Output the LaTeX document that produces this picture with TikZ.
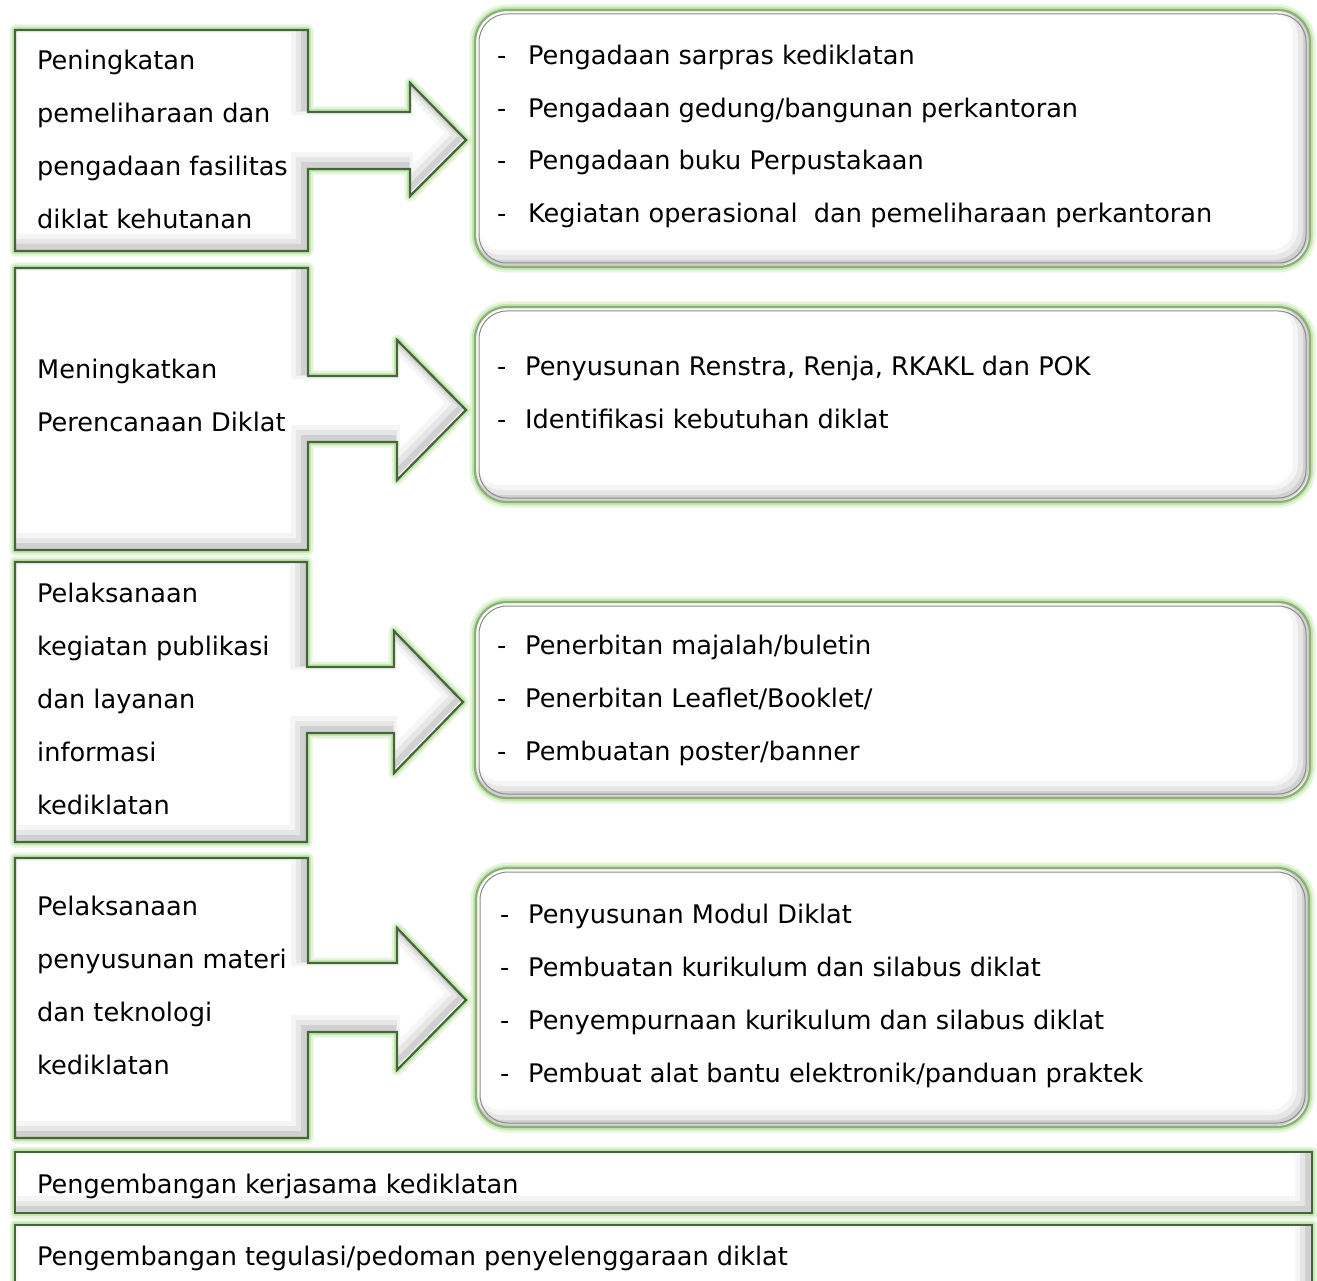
\documentclass[tikz,border=0pt]{standalone}
\usepackage{fontspec}
\setmainfont{DejaVu Sans}
\definecolor{glow}{HTML}{B5E39C}
\definecolor{dkgreen}{HTML}{46663A}
\definecolor{rbord}{HTML}{8DAE78}
\tikzset{
  lbl/.style={anchor=base west, inner sep=0pt, font=\fontsize{25.6}{30}\selectfont, text=black},
}
\newcommand\bevelshape[2]{%
  \draw[glow, line width=11pt, opacity=0.35, line join=round] #1;
  \draw[glow, line width=6pt, opacity=0.7, line join=round] #1;
  \fill[white] #1;
  \begin{scope}
    \clip #1;
    \draw[black, opacity=0.04, line width=20pt, shift={(-7,-7)}] #1;
    \draw[black, opacity=0.06, line width=12pt, shift={(-6,-6)}] #1;
    \draw[black, opacity=0.09, line width=6pt, shift={(-4,-4)}] #1;
  \end{scope}
  \draw[#2, line width=2.2pt, line join=miter] #1;
}
\newcommand\dashitem[2]{\makebox[#1][l]{-}#2}
\begin{document}
\begin{tikzpicture}[x=1pt,y=-1pt]
\useasboundingbox (0,0) rectangle (1317,1281);
\fill[white] (0,0) rectangle (1317,1281);

% ---- row 1
\bevelshape{(15,30) -- (308,30) -- (308,112) -- (410,112) -- (410,83) -- (466,140) -- (410,196) -- (410,169) -- (308,169) -- (308,251) -- (15,251) -- cycle}{dkgreen}
\bevelshape{[rounded corners=32pt] (475,10) rectangle (1310,267)}{rbord}
\draw[black!45, line width=1pt, rounded corners=28pt] (479,14) rectangle (1306,263);

% ---- row 2
\bevelshape{(15,268) -- (308,268) -- (308,376) -- (397,376) -- (397,340) -- (466,410) -- (397,480) -- (397,442) -- (308,442) -- (308,550) -- (15,550) -- cycle}{dkgreen}
\bevelshape{[rounded corners=32pt] (475,307) rectangle (1310,502)}{rbord}
\draw[black!45, line width=1pt, rounded corners=28pt] (479,311) rectangle (1306,498);

% ---- row 3
\bevelshape{(15,562) -- (307,562) -- (307,667) -- (394,667) -- (394,631) -- (463,702) -- (394,773) -- (394,733) -- (307,733) -- (307,842) -- (15,842) -- cycle}{dkgreen}
\bevelshape{[rounded corners=32pt] (475,602) rectangle (1310,798)}{rbord}
\draw[black!45, line width=1pt, rounded corners=28pt] (479,606) rectangle (1306,794);

% ---- row 4
\bevelshape{(15,858) -- (308,858) -- (308,963) -- (397,963) -- (397,928) -- (466,1000) -- (397,1070) -- (397,1032) -- (308,1032) -- (308,1138) -- (15,1138) -- cycle}{dkgreen}
\bevelshape{[rounded corners=32pt] (476,868) rectangle (1309,1127)}{rbord}
\draw[black!45, line width=1pt, rounded corners=28pt] (480,872) rectangle (1305,1123);

% ---- bottom bars
\bevelshape{(15,1152) rectangle (1312,1213)}{dkgreen}
\bevelshape{(15,1225) rectangle (1312,1300)}{dkgreen}

% ---- texts row 1
\node[lbl] (l1a) at (37,70) {Peningkatan};
\node[lbl] (l1b) at (37,123) {pemeliharaan dan};
\node[lbl] (l1c) at (37,176) {pengadaan fasilitas};
\node[lbl] (l1d) at (37,229) {diklat kehutanan};
\node[lbl] (r1a) at (497,65) {\dashitem{31pt}{Pengadaan sarpras kediklatan}};
\node[lbl] (r1b) at (497,118) {\dashitem{31pt}{Pengadaan gedung/bangunan perkantoran}};
\node[lbl] (r1c) at (497,170) {\dashitem{31pt}{Pengadaan buku Perpustakaan}};
\node[lbl] (r1d) at (497,223) {\dashitem{31pt}{Kegiatan operasional \ dan pemeliharaan perkantoran}};

% ---- texts row 2
\node[lbl] (l2a) at (37,378) {Meningkatkan};
\node[lbl] (l2b) at (37,431) {Perencanaan Diklat};
\node[lbl] (r2a) at (497,375) {\dashitem{28pt}{Penyusunan Renstra, Renja, RKAKL dan POK}};
\node[lbl] (r2b) at (497,428) {\dashitem{28pt}{Identifikasi kebutuhan diklat}};

% ---- texts row 3
\node[lbl] (l3a) at (37,602) {Pelaksanaan};
\node[lbl] (l3b) at (37,655) {kegiatan publikasi};
\node[lbl] (l3c) at (37,708) {dan layanan};
\node[lbl] (l3d) at (37,761) {informasi};
\node[lbl] (l3e) at (37,814) {kediklatan};
\node[lbl] (r3a) at (497,654) {\dashitem{28pt}{Penerbitan majalah/buletin}};
\node[lbl] (r3b) at (497,707) {\dashitem{28pt}{Penerbitan Leaflet/Booklet/}};
\node[lbl] (r3c) at (497,760) {\dashitem{28pt}{Pembuatan poster/banner}};

% ---- texts row 4
\node[lbl] (l4a) at (37,915) {Pelaksanaan};
\node[lbl] (l4b) at (37,968) {penyusunan materi};
\node[lbl] (l4c) at (37,1021) {dan teknologi};
\node[lbl] (l4d) at (37,1074) {kediklatan};
\node[lbl] (r4a) at (500,923) {\dashitem{28pt}{Penyusunan Modul Diklat}};
\node[lbl] (r4b) at (500,976) {\dashitem{28pt}{Pembuatan kurikulum dan silabus diklat}};
\node[lbl] (r4c) at (500,1029) {\dashitem{28pt}{Penyempurnaan kurikulum dan silabus diklat}};
\node[lbl] (r4d) at (500,1082) {\dashitem{28pt}{Pembuat alat bantu elektronik/panduan praktek}};

% ---- bars
\node[lbl] (b1) at (37,1193) {Pengembangan kerjasama kediklatan};
\node[lbl] (b2) at (37,1265) {Pengembangan tegulasi/pedoman penyelenggaraan diklat};
\end{tikzpicture}
\end{document}
